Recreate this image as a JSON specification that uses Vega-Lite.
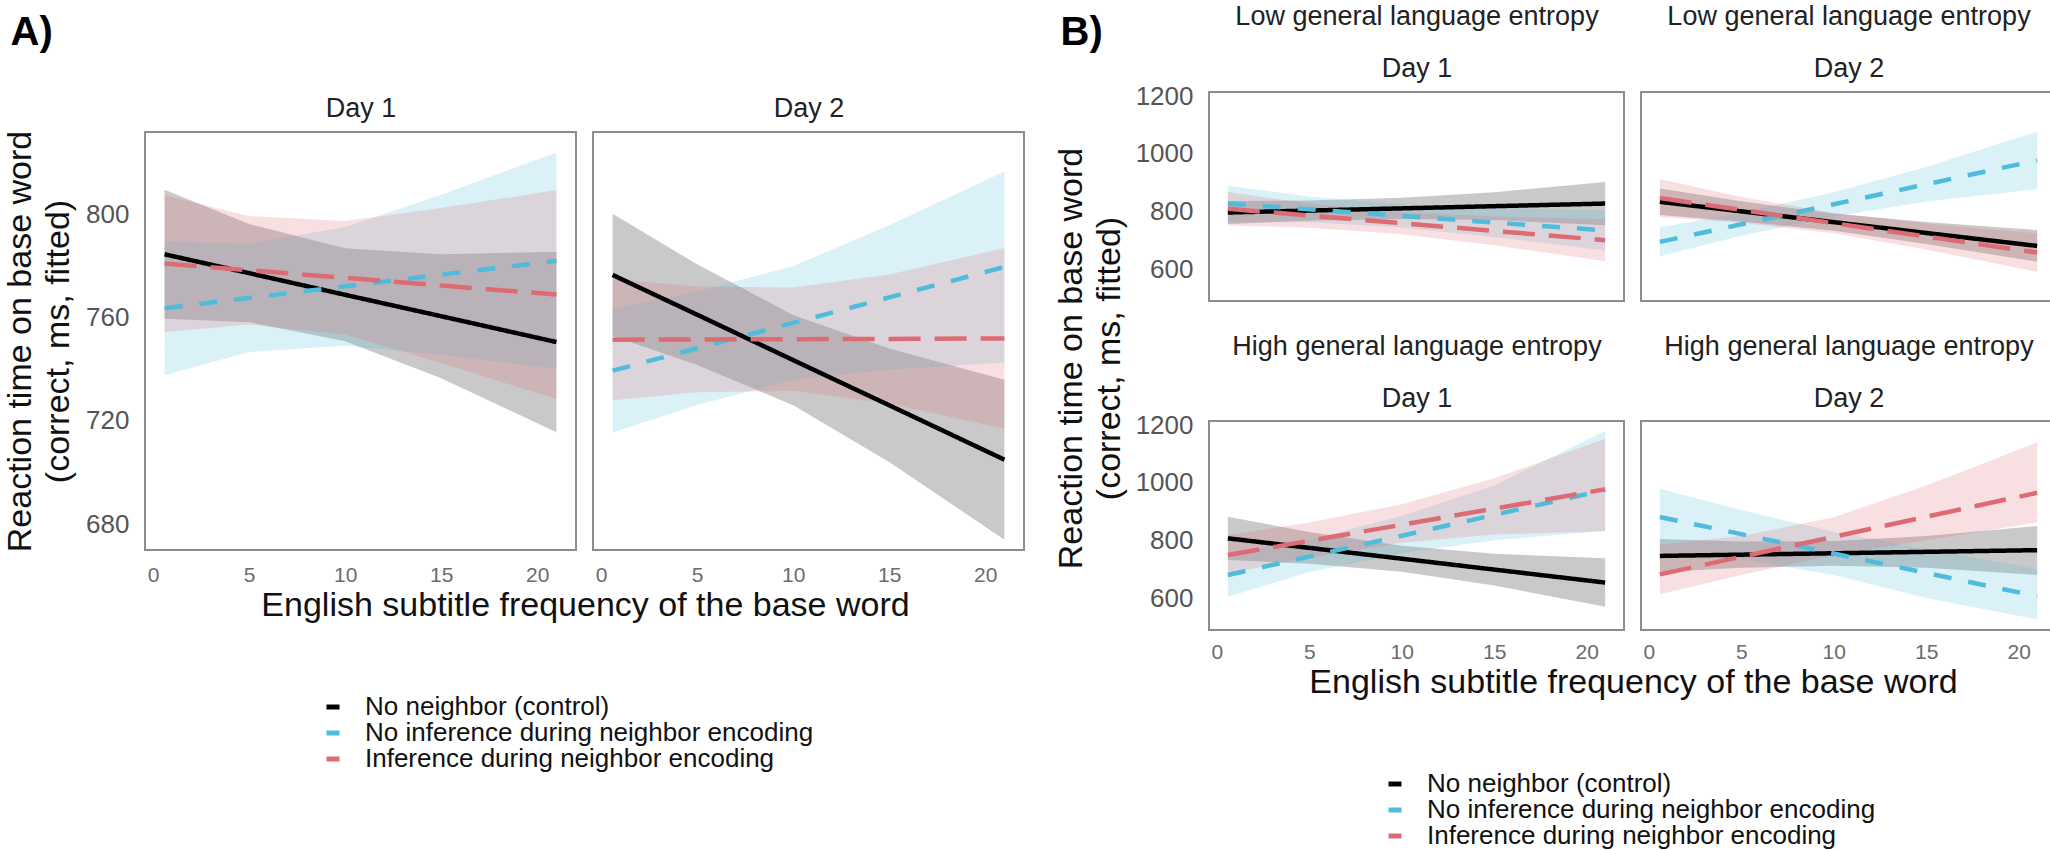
{
  "$schema": "https://vega.github.io/schema/vega-lite/v6.json",
  "background": "white",
  "padding": {"left": 2, "top": 1, "right": 0, "bottom": 0},
  "config": {
    "font": "Liberation Sans",
    "view": {"stroke": "#8c8c8c", "strokeWidth": 2},
    "axis": {"grid": false, "domain": false, "ticks": false, "tickSize": 0, "labelFont": "Liberation Sans", "titleFont": "Liberation Sans", "titleFontWeight": "normal", "titleColor": "#111111", "titleFontSize": 34}
  },
  "datasets": {
    "rt": [
      {"p": "A1", "c": "No neighbor (control)", "x": 0.6, "y": 784.6, "lo": 759.6, "hi": 809.6},
      {"p": "A1", "c": "No neighbor (control)", "x": 5, "y": 777.3, "lo": 758.3, "hi": 796.3},
      {"p": "A1", "c": "No neighbor (control)", "x": 10, "y": 768.9, "lo": 750.9, "hi": 786.9},
      {"p": "A1", "c": "No neighbor (control)", "x": 15, "y": 760.6, "lo": 736.6, "hi": 784.6},
      {"p": "A1", "c": "No neighbor (control)", "x": 21, "y": 750.6, "lo": 715.6, "hi": 785.6},
      {"p": "A1", "c": "No inference during neighbor encoding", "x": 0.6, "y": 763.7, "lo": 737.7, "hi": 789.7},
      {"p": "A1", "c": "No inference during neighbor encoding", "x": 5, "y": 767.7, "lo": 746.7, "hi": 788.7},
      {"p": "A1", "c": "No inference during neighbor encoding", "x": 10, "y": 772.2, "lo": 749.2, "hi": 795.2},
      {"p": "A1", "c": "No inference during neighbor encoding", "x": 15, "y": 776.7, "lo": 745.7, "hi": 807.7},
      {"p": "A1", "c": "No inference during neighbor encoding", "x": 21, "y": 782.1, "lo": 740.1, "hi": 824.1},
      {"p": "A1", "c": "Inference during neighbor encoding", "x": 0.6, "y": 781, "lo": 754.5, "hi": 807.5},
      {"p": "A1", "c": "Inference during neighbor encoding", "x": 5, "y": 778.4, "lo": 757.4, "hi": 799.4},
      {"p": "A1", "c": "Inference during neighbor encoding", "x": 10, "y": 775.5, "lo": 753.5, "hi": 797.5},
      {"p": "A1", "c": "Inference during neighbor encoding", "x": 15, "y": 772.5, "lo": 742.5, "hi": 802.5},
      {"p": "A1", "c": "Inference during neighbor encoding", "x": 21, "y": 769, "lo": 728.5, "hi": 809.5},

      {"p": "A2", "c": "No neighbor (control)", "x": 0.6, "y": 776.6, "lo": 752.9, "hi": 800.3},
      {"p": "A2", "c": "No neighbor (control)", "x": 5, "y": 761.2, "lo": 741.7, "hi": 780.7},
      {"p": "A2", "c": "No neighbor (control)", "x": 10, "y": 743.6, "lo": 726.1, "hi": 761.1},
      {"p": "A2", "c": "No neighbor (control)", "x": 15, "y": 726.1, "lo": 704.1, "hi": 748.1},
      {"p": "A2", "c": "No neighbor (control)", "x": 21, "y": 705, "lo": 674, "hi": 736},
      {"p": "A2", "c": "No inference during neighbor encoding", "x": 0.6, "y": 739.5, "lo": 715.5, "hi": 763.5},
      {"p": "A2", "c": "No inference during neighbor encoding", "x": 5, "y": 748.2, "lo": 726.2, "hi": 770.2},
      {"p": "A2", "c": "No inference during neighbor encoding", "x": 10, "y": 758, "lo": 736, "hi": 780},
      {"p": "A2", "c": "No inference during neighbor encoding", "x": 15, "y": 767.9, "lo": 739.9, "hi": 795.9},
      {"p": "A2", "c": "No inference during neighbor encoding", "x": 21, "y": 779.7, "lo": 742.7, "hi": 816.7},
      {"p": "A2", "c": "Inference during neighbor encoding", "x": 0.6, "y": 751.5, "lo": 728, "hi": 775},
      {"p": "A2", "c": "Inference during neighbor encoding", "x": 5, "y": 751.6, "lo": 731.1, "hi": 772.1},
      {"p": "A2", "c": "Inference during neighbor encoding", "x": 10, "y": 751.7, "lo": 731.7, "hi": 771.7},
      {"p": "A2", "c": "Inference during neighbor encoding", "x": 15, "y": 751.8, "lo": 726.8, "hi": 776.8},
      {"p": "A2", "c": "Inference during neighbor encoding", "x": 21, "y": 752, "lo": 717, "hi": 787},

      {"p": "TL", "c": "No neighbor (control)", "x": 0.6, "y": 796, "lo": 756, "hi": 836},
      {"p": "TL", "c": "No neighbor (control)", "x": 5, "y": 802.7, "lo": 767.7, "hi": 837.7},
      {"p": "TL", "c": "No neighbor (control)", "x": 10, "y": 810.3, "lo": 773.3, "hi": 847.3},
      {"p": "TL", "c": "No neighbor (control)", "x": 15, "y": 817.9, "lo": 769.9, "hi": 865.9},
      {"p": "TL", "c": "No neighbor (control)", "x": 21, "y": 827, "lo": 752, "hi": 902},
      {"p": "TL", "c": "No inference during neighbor encoding", "x": 0.6, "y": 827, "lo": 765, "hi": 889},
      {"p": "TL", "c": "No inference during neighbor encoding", "x": 5, "y": 806.9, "lo": 761.9, "hi": 851.9},
      {"p": "TL", "c": "No inference during neighbor encoding", "x": 10, "y": 784.1, "lo": 744.1, "hi": 824.1},
      {"p": "TL", "c": "No inference during neighbor encoding", "x": 15, "y": 761.4, "lo": 711.4, "hi": 811.4},
      {"p": "TL", "c": "No inference during neighbor encoding", "x": 21, "y": 734, "lo": 664, "hi": 804},
      {"p": "TL", "c": "Inference during neighbor encoding", "x": 0.6, "y": 809, "lo": 751, "hi": 867},
      {"p": "TL", "c": "Inference during neighbor encoding", "x": 5, "y": 785.5, "lo": 743.5, "hi": 827.5},
      {"p": "TL", "c": "Inference during neighbor encoding", "x": 10, "y": 758.8, "lo": 720.8, "hi": 796.8},
      {"p": "TL", "c": "Inference during neighbor encoding", "x": 15, "y": 732.1, "lo": 682.1, "hi": 782.1},
      {"p": "TL", "c": "Inference during neighbor encoding", "x": 21, "y": 700, "lo": 627, "hi": 773},

      {"p": "TR", "c": "No neighbor (control)", "x": 0.6, "y": 833, "lo": 787, "hi": 879},
      {"p": "TR", "c": "No neighbor (control)", "x": 5, "y": 800, "lo": 765, "hi": 835},
      {"p": "TR", "c": "No neighbor (control)", "x": 10, "y": 762.5, "lo": 732.5, "hi": 792.5},
      {"p": "TR", "c": "No neighbor (control)", "x": 15, "y": 725, "lo": 687, "hi": 763},
      {"p": "TR", "c": "No neighbor (control)", "x": 21, "y": 680, "lo": 625, "hi": 735},
      {"p": "TR", "c": "No inference during neighbor encoding", "x": 0.6, "y": 694, "lo": 644, "hi": 744},
      {"p": "TR", "c": "No inference during neighbor encoding", "x": 5, "y": 755, "lo": 715, "hi": 795},
      {"p": "TR", "c": "No inference during neighbor encoding", "x": 10, "y": 824.4, "lo": 782.4, "hi": 866.4},
      {"p": "TR", "c": "No inference during neighbor encoding", "x": 15, "y": 893.8, "lo": 833.8, "hi": 953.8},
      {"p": "TR", "c": "No inference during neighbor encoding", "x": 21, "y": 977, "lo": 877, "hi": 1077},
      {"p": "TR", "c": "Inference during neighbor encoding", "x": 0.6, "y": 846, "lo": 780, "hi": 912},
      {"p": "TR", "c": "Inference during neighbor encoding", "x": 5, "y": 805.2, "lo": 760.2, "hi": 850.2},
      {"p": "TR", "c": "Inference during neighbor encoding", "x": 10, "y": 758.9, "lo": 723.9, "hi": 793.9},
      {"p": "TR", "c": "Inference during neighbor encoding", "x": 15, "y": 712.6, "lo": 667.6, "hi": 757.6},
      {"p": "TR", "c": "Inference during neighbor encoding", "x": 21, "y": 657, "lo": 590, "hi": 724},

      {"p": "BL", "c": "No neighbor (control)", "x": 0.6, "y": 807, "lo": 732, "hi": 882},
      {"p": "BL", "c": "No neighbor (control)", "x": 5, "y": 773.9, "lo": 718.9, "hi": 828.9},
      {"p": "BL", "c": "No neighbor (control)", "x": 10, "y": 736.3, "lo": 691.3, "hi": 781.3},
      {"p": "BL", "c": "No neighbor (control)", "x": 15, "y": 698.6, "lo": 643.6, "hi": 753.6},
      {"p": "BL", "c": "No neighbor (control)", "x": 21, "y": 653.5, "lo": 569.5, "hi": 737.5},
      {"p": "BL", "c": "No inference during neighbor encoding", "x": 0.6, "y": 680, "lo": 604, "hi": 756},
      {"p": "BL", "c": "No inference during neighbor encoding", "x": 5, "y": 743.6, "lo": 690, "hi": 800},
      {"p": "BL", "c": "No inference during neighbor encoding", "x": 10, "y": 815.9, "lo": 755, "hi": 885},
      {"p": "BL", "c": "No inference during neighbor encoding", "x": 15, "y": 888.2, "lo": 800, "hi": 990},
      {"p": "BL", "c": "No inference during neighbor encoding", "x": 21, "y": 975, "lo": 832, "hi": 1179},
      {"p": "BL", "c": "Inference during neighbor encoding", "x": 0.6, "y": 749, "lo": 685, "hi": 818},
      {"p": "BL", "c": "Inference during neighbor encoding", "x": 5, "y": 798.2, "lo": 740, "hi": 862},
      {"p": "BL", "c": "Inference during neighbor encoding", "x": 10, "y": 854.1, "lo": 792, "hi": 925},
      {"p": "BL", "c": "Inference during neighbor encoding", "x": 15, "y": 910, "lo": 820, "hi": 1015},
      {"p": "BL", "c": "Inference during neighbor encoding", "x": 21, "y": 977, "lo": 832, "hi": 1152},

      {"p": "BR", "c": "No neighbor (control)", "x": 0.6, "y": 746, "lo": 690, "hi": 805},
      {"p": "BR", "c": "No neighbor (control)", "x": 5, "y": 750.3, "lo": 705, "hi": 796},
      {"p": "BR", "c": "No neighbor (control)", "x": 10, "y": 755.2, "lo": 712, "hi": 798},
      {"p": "BR", "c": "No neighbor (control)", "x": 15, "y": 760.1, "lo": 705, "hi": 815},
      {"p": "BR", "c": "No neighbor (control)", "x": 21, "y": 766, "lo": 680, "hi": 850},
      {"p": "BR", "c": "No inference during neighbor encoding", "x": 0.6, "y": 881, "lo": 763, "hi": 979},
      {"p": "BR", "c": "No inference during neighbor encoding", "x": 5, "y": 821.7, "lo": 735, "hi": 905},
      {"p": "BR", "c": "No inference during neighbor encoding", "x": 10, "y": 754.3, "lo": 680, "hi": 830},
      {"p": "BR", "c": "No inference during neighbor encoding", "x": 15, "y": 686.9, "lo": 600, "hi": 770},
      {"p": "BR", "c": "No inference during neighbor encoding", "x": 21, "y": 606, "lo": 526, "hi": 700},
      {"p": "BR", "c": "Inference during neighbor encoding", "x": 0.6, "y": 682, "lo": 613, "hi": 786},
      {"p": "BR", "c": "Inference during neighbor encoding", "x": 5, "y": 743, "lo": 680, "hi": 815},
      {"p": "BR", "c": "Inference during neighbor encoding", "x": 10, "y": 812.4, "lo": 750, "hi": 880},
      {"p": "BR", "c": "Inference during neighbor encoding", "x": 15, "y": 881.8, "lo": 800, "hi": 990},
      {"p": "BR", "c": "Inference during neighbor encoding", "x": 21, "y": 965, "lo": 862, "hi": 1139}
    ]
  },
  "spacing": 27,
  "hconcat": [
    {
      "bounds": "flush",
      "spacing": 0,
      "vconcat": [
        {
          "width": 879, "height": 40,
          "view": {"stroke": null},
          "data": {"values": []},
          "mark": "point",
          "encoding": {}
        },
        {
          "bounds": "flush",
          "spacing": 17,
          "resolve": {"scale": {"x": "independent", "y": "independent"}},
          "hconcat": [
            {
              "width": 431, "height": 418,
              "data": {"name": "rt"},
              "transform": [{"filter": "datum.p === 'A1'"}],
              "resolve": {"axis": {"x": "independent", "y": "independent"}},
              "layer": [
                {"mark": {"type": "area", "fillOpacity": 0.21},
                 "encoding": {
                   "x": {"field": "x", "type": "quantitative", "scale": {"domain": [-0.42, 22.02], "nice": false, "zero": false}, "axis": {"orient": "bottom", "values": [0, 5, 10, 15, 20], "labelFontSize": 21, "labelColor": "#6b6b6b", "labelPadding": 14, "title": null}},
                   "y": {"field": "lo", "type": "quantitative", "scale": {"domain": [670, 832], "nice": false, "zero": false}, "axis": {"orient": "left", "values": [680, 720, 760, 800], "labelFontSize": 26, "labelColor": "#555555", "labelPadding": 16, "title": ["Reaction time on base word", "(correct, ms, fitted)"], "titleLineHeight": 38, "titlePadding": 10}},
                   "y2": {"field": "hi"},
                   "fill": {"field": "c", "type": "nominal", "scale": {"domain": ["No inference during neighbor encoding", "No neighbor (control)", "Inference during neighbor encoding"], "range": ["#4FBCDB", "#000000", "#DC6B74"]}, "legend": null}
                 }},
                {"mark": {"type": "line", "strokeWidth": 4.5},
                 "encoding": {
                   "x": {"field": "x", "type": "quantitative", "scale": {"domain": [-0.42, 22.02], "nice": false, "zero": false}, "axis": {"orient": "top", "labels": false, "title": "Day 1", "titleX": 215.5, "titleY": -36.7, "titleAlign": "center", "titleBaseline": "top", "titleFontSize": 27, "titleColor": "#222222"}},
                   "y": {"field": "y", "type": "quantitative", "scale": {"domain": [670, 832], "nice": false, "zero": false}, "axis": {"orient": "right", "labels": false, "title": "A)", "titleX": -566, "titleY": -120, "titleAngle": 0, "titleAlign": "left", "titleBaseline": "top", "titleFontSize": 40, "titleFontWeight": "bold", "titleColor": "#000000"}},
                   "stroke": {"field": "c", "type": "nominal", "scale": {"domain": ["No neighbor (control)", "No inference during neighbor encoding", "Inference during neighbor encoding"], "range": ["#000000", "#4FBCDB", "#DC6B74"]}, "legend": {"title": null, "orient": "none", "legendX": 175, "legendY": 602, "direction": "vertical", "symbolType": "stroke", "symbolSize": 169, "symbolStrokeWidth": 5, "labelFontSize": 26, "labelFont": "Liberation Sans", "labelColor": "#111111", "labelOffset": 19, "rowPadding": -1, "padding": 0, "labelLimit": 900}},
                   "strokeDash": {"field": "c", "type": "nominal", "scale": {"domain": ["No inference during neighbor encoding", "Inference during neighbor encoding", "No neighbor (control)"], "range": [[18, 17], [32, 14], [1, 0]]}, "legend": null}
                 }}
              ]
            },
            {
              "width": 431, "height": 418,
              "data": {"name": "rt"},
              "transform": [{"filter": "datum.p === 'A2'"}],
              "resolve": {"axis": {"x": "independent", "y": "independent"}},
              "layer": [
                {"mark": {"type": "area", "fillOpacity": 0.21},
                 "encoding": {
                   "x": {"field": "x", "type": "quantitative", "scale": {"domain": [-0.42, 22.02], "nice": false, "zero": false}, "axis": {"orient": "bottom", "values": [0, 5, 10, 15, 20], "labelFontSize": 21, "labelColor": "#6b6b6b", "labelPadding": 14, "title": "English subtitle frequency of the base word", "titleX": -8, "titleY": 38}},
                   "y": {"field": "lo", "type": "quantitative", "scale": {"domain": [670, 832], "nice": false, "zero": false}, "axis": null},
                   "y2": {"field": "hi"},
                   "fill": {"field": "c", "type": "nominal", "scale": {"domain": ["No inference during neighbor encoding", "No neighbor (control)", "Inference during neighbor encoding"], "range": ["#4FBCDB", "#000000", "#DC6B74"]}, "legend": null}
                 }},
                {"mark": {"type": "line", "strokeWidth": 4.5},
                 "encoding": {
                   "x": {"field": "x", "type": "quantitative", "scale": {"domain": [-0.42, 22.02], "nice": false, "zero": false}, "axis": {"orient": "top", "labels": false, "title": "Day 2", "titleX": 215.5, "titleY": -36.7, "titleAlign": "center", "titleBaseline": "top", "titleFontSize": 27, "titleColor": "#222222"}},
                   "y": {"field": "y", "type": "quantitative", "scale": {"domain": [670, 832], "nice": false, "zero": false}, "axis": null},
                   "stroke": {"field": "c", "type": "nominal", "scale": {"domain": ["No neighbor (control)", "No inference during neighbor encoding", "Inference during neighbor encoding"], "range": ["#000000", "#4FBCDB", "#DC6B74"]}, "legend": {"title": null, "orient": "none", "legendX": 175, "legendY": 602, "direction": "vertical", "symbolType": "stroke", "symbolSize": 169, "symbolStrokeWidth": 5, "labelFontSize": 26, "labelFont": "Liberation Sans", "labelColor": "#111111", "labelOffset": 19, "rowPadding": -1, "padding": 0, "labelLimit": 900}},
                   "strokeDash": {"field": "c", "type": "nominal", "scale": {"domain": ["No inference during neighbor encoding", "Inference during neighbor encoding", "No neighbor (control)"], "range": [[18, 17], [32, 14], [1, 0]]}, "legend": null}
                 }}
              ]
            }
          ]
        }
      ]
    },
    {
      "bounds": "flush",
      "columns": 2,
      "spacing": {"row": 120, "column": 17},
      "resolve": {"scale": {"x": "independent", "y": "independent"}},
      "concat": [
        {
          "width": 415, "height": 209,
          "data": {"name": "rt"},
          "transform": [{"filter": "datum.p === 'TL'"}],
          "resolve": {"axis": {"x": "independent", "y": "independent"}},
          "layer": [
            {"mark": {"type": "area", "fillOpacity": 0.21},
             "encoding": {
               "x": {"field": "x", "type": "quantitative", "scale": {"domain": [-0.42, 22.02], "nice": false, "zero": false}, "axis": null},
               "y": {"field": "lo", "type": "quantitative", "scale": {"domain": [489, 1214], "nice": false, "zero": false}, "axis": {"orient": "left", "values": [600, 800, 1000, 1200], "format": "d", "labelFontSize": 26, "labelColor": "#555555", "labelPadding": 16, "title": ["Reaction time on base word", "(correct, ms, fitted)"], "titleLineHeight": 38, "titleX": -121, "titleY": 266}},
               "y2": {"field": "hi"},
               "fill": {"field": "c", "type": "nominal", "scale": {"domain": ["No inference during neighbor encoding", "No neighbor (control)", "Inference during neighbor encoding"], "range": ["#4FBCDB", "#000000", "#DC6B74"]}, "legend": null}
             }},
            {"mark": {"type": "line", "strokeWidth": 4.5},
             "encoding": {
               "x": {"field": "x", "type": "quantitative", "scale": {"domain": [-0.42, 22.02], "nice": false, "zero": false}, "axis": {"orient": "top", "labels": false, "title": ["Low general language entropy", "Day 1"], "titleLineHeight": 52, "titleX": 207.5, "titleY": -88.7, "titleAlign": "center", "titleBaseline": "top", "titleFontSize": 27, "titleColor": "#222222"}},
               "y": {"field": "y", "type": "quantitative", "scale": {"domain": [489, 1214], "nice": false, "zero": false}, "axis": {"orient": "right", "labels": false, "title": "B)", "titleX": -564, "titleY": -80, "titleAngle": 0, "titleAlign": "left", "titleBaseline": "top", "titleFontSize": 40, "titleFontWeight": "bold", "titleColor": "#000000"}},
               "color": {"field": "c", "type": "nominal", "scale": {"domain": ["Inference during neighbor encoding", "No inference during neighbor encoding", "No neighbor (control)"], "range": ["#DC6B74", "#4FBCDB", "#000000"]}, "legend": {"title": null, "values": ["No neighbor (control)", "No inference during neighbor encoding", "Inference during neighbor encoding"], "orient": "none", "legendX": 1237, "legendY": 679, "direction": "vertical", "symbolType": "stroke", "symbolSize": 169, "symbolStrokeWidth": 5, "labelFontSize": 26, "labelFont": "Liberation Sans", "labelColor": "#111111", "labelOffset": 19, "rowPadding": -1, "padding": 0, "labelLimit": 900}},
               "strokeDash": {"field": "c", "type": "nominal", "scale": {"domain": ["No inference during neighbor encoding", "Inference during neighbor encoding", "No neighbor (control)"], "range": [[18, 17], [32, 14], [1, 0]]}, "legend": null}
             }}
          ]
        },
        {
          "width": 415, "height": 209,
          "data": {"name": "rt"},
          "transform": [{"filter": "datum.p === 'TR'"}],
          "resolve": {"axis": {"x": "independent", "y": "independent"}},
          "layer": [
            {"mark": {"type": "area", "fillOpacity": 0.21},
             "encoding": {
               "x": {"field": "x", "type": "quantitative", "scale": {"domain": [-0.42, 22.02], "nice": false, "zero": false}, "axis": null},
               "y": {"field": "lo", "type": "quantitative", "scale": {"domain": [489, 1214], "nice": false, "zero": false}, "axis": null},
               "y2": {"field": "hi"},
               "fill": {"field": "c", "type": "nominal", "scale": {"domain": ["No inference during neighbor encoding", "No neighbor (control)", "Inference during neighbor encoding"], "range": ["#4FBCDB", "#000000", "#DC6B74"]}, "legend": null}
             }},
            {"mark": {"type": "line", "strokeWidth": 4.5},
             "encoding": {
               "x": {"field": "x", "type": "quantitative", "scale": {"domain": [-0.42, 22.02], "nice": false, "zero": false}, "axis": {"orient": "top", "labels": false, "title": ["Low general language entropy", "Day 2"], "titleLineHeight": 52, "titleX": 207.5, "titleY": -88.7, "titleAlign": "center", "titleBaseline": "top", "titleFontSize": 27, "titleColor": "#222222"}},
               "y": {"field": "y", "type": "quantitative", "scale": {"domain": [489, 1214], "nice": false, "zero": false}, "axis": null},
               "color": {"field": "c", "type": "nominal", "scale": {"domain": ["Inference during neighbor encoding", "No inference during neighbor encoding", "No neighbor (control)"], "range": ["#DC6B74", "#4FBCDB", "#000000"]}, "legend": {"title": null, "values": ["No neighbor (control)", "No inference during neighbor encoding", "Inference during neighbor encoding"], "orient": "none", "legendX": 1237, "legendY": 679, "direction": "vertical", "symbolType": "stroke", "symbolSize": 169, "symbolStrokeWidth": 5, "labelFontSize": 26, "labelFont": "Liberation Sans", "labelColor": "#111111", "labelOffset": 19, "rowPadding": -1, "padding": 0, "labelLimit": 900}},
               "strokeDash": {"field": "c", "type": "nominal", "scale": {"domain": ["No inference during neighbor encoding", "Inference during neighbor encoding", "No neighbor (control)"], "range": [[18, 17], [32, 14], [1, 0]]}, "legend": null}
             }}
          ]
        },
        {
          "width": 415, "height": 209,
          "data": {"name": "rt"},
          "transform": [{"filter": "datum.p === 'BL'"}],
          "resolve": {"axis": {"x": "independent", "y": "independent"}},
          "layer": [
            {"mark": {"type": "area", "fillOpacity": 0.21},
             "encoding": {
               "x": {"field": "x", "type": "quantitative", "scale": {"domain": [-0.42, 22.02], "nice": false, "zero": false}, "axis": {"orient": "bottom", "values": [0, 5, 10, 15, 20], "labelFontSize": 21, "labelColor": "#6b6b6b", "labelPadding": 11, "title": null}},
               "y": {"field": "lo", "type": "quantitative", "scale": {"domain": [489, 1214], "nice": false, "zero": false}, "axis": {"orient": "left", "values": [600, 800, 1000, 1200], "format": "d", "labelFontSize": 26, "labelColor": "#555555", "labelPadding": 16, "title": null}},
               "y2": {"field": "hi"},
               "fill": {"field": "c", "type": "nominal", "scale": {"domain": ["No inference during neighbor encoding", "No neighbor (control)", "Inference during neighbor encoding"], "range": ["#4FBCDB", "#000000", "#DC6B74"]}, "legend": null}
             }},
            {"mark": {"type": "line", "strokeWidth": 4.5},
             "encoding": {
               "x": {"field": "x", "type": "quantitative", "scale": {"domain": [-0.42, 22.02], "nice": false, "zero": false}, "axis": {"orient": "top", "labels": false, "title": ["High general language entropy", "Day 1"], "titleLineHeight": 52, "titleX": 207.5, "titleY": -87.7, "titleAlign": "center", "titleBaseline": "top", "titleFontSize": 27, "titleColor": "#222222"}},
               "y": {"field": "y", "type": "quantitative", "scale": {"domain": [489, 1214], "nice": false, "zero": false}, "axis": null},
               "color": {"field": "c", "type": "nominal", "scale": {"domain": ["Inference during neighbor encoding", "No inference during neighbor encoding", "No neighbor (control)"], "range": ["#DC6B74", "#4FBCDB", "#000000"]}, "legend": {"title": null, "values": ["No neighbor (control)", "No inference during neighbor encoding", "Inference during neighbor encoding"], "orient": "none", "legendX": 1237, "legendY": 679, "direction": "vertical", "symbolType": "stroke", "symbolSize": 169, "symbolStrokeWidth": 5, "labelFontSize": 26, "labelFont": "Liberation Sans", "labelColor": "#111111", "labelOffset": 19, "rowPadding": -1, "padding": 0, "labelLimit": 900}},
               "strokeDash": {"field": "c", "type": "nominal", "scale": {"domain": ["No inference during neighbor encoding", "Inference during neighbor encoding", "No neighbor (control)"], "range": [[18, 17], [32, 14], [1, 0]]}, "legend": null}
             }}
          ]
        },
        {
          "width": 415, "height": 209,
          "data": {"name": "rt"},
          "transform": [{"filter": "datum.p === 'BR'"}],
          "resolve": {"axis": {"x": "independent", "y": "independent"}},
          "layer": [
            {"mark": {"type": "area", "fillOpacity": 0.21},
             "encoding": {
               "x": {"field": "x", "type": "quantitative", "scale": {"domain": [-0.42, 22.02], "nice": false, "zero": false}, "axis": {"orient": "bottom", "values": [0, 5, 10, 15, 20], "labelFontSize": 21, "labelColor": "#6b6b6b", "labelPadding": 11, "title": "English subtitle frequency of the base word", "titleX": -8, "titleY": 35}},
               "y": {"field": "lo", "type": "quantitative", "scale": {"domain": [489, 1214], "nice": false, "zero": false}, "axis": null},
               "y2": {"field": "hi"},
               "fill": {"field": "c", "type": "nominal", "scale": {"domain": ["No inference during neighbor encoding", "No neighbor (control)", "Inference during neighbor encoding"], "range": ["#4FBCDB", "#000000", "#DC6B74"]}, "legend": null}
             }},
            {"mark": {"type": "line", "strokeWidth": 4.5},
             "encoding": {
               "x": {"field": "x", "type": "quantitative", "scale": {"domain": [-0.42, 22.02], "nice": false, "zero": false}, "axis": {"orient": "top", "labels": false, "title": ["High general language entropy", "Day 2"], "titleLineHeight": 52, "titleX": 207.5, "titleY": -87.7, "titleAlign": "center", "titleBaseline": "top", "titleFontSize": 27, "titleColor": "#222222"}},
               "y": {"field": "y", "type": "quantitative", "scale": {"domain": [489, 1214], "nice": false, "zero": false}, "axis": null},
               "color": {"field": "c", "type": "nominal", "scale": {"domain": ["Inference during neighbor encoding", "No inference during neighbor encoding", "No neighbor (control)"], "range": ["#DC6B74", "#4FBCDB", "#000000"]}, "legend": {"title": null, "values": ["No neighbor (control)", "No inference during neighbor encoding", "Inference during neighbor encoding"], "orient": "none", "legendX": 1237, "legendY": 679, "direction": "vertical", "symbolType": "stroke", "symbolSize": 169, "symbolStrokeWidth": 5, "labelFontSize": 26, "labelFont": "Liberation Sans", "labelColor": "#111111", "labelOffset": 19, "rowPadding": -1, "padding": 0, "labelLimit": 900}},
               "strokeDash": {"field": "c", "type": "nominal", "scale": {"domain": ["No inference during neighbor encoding", "Inference during neighbor encoding", "No neighbor (control)"], "range": [[18, 17], [32, 14], [1, 0]]}, "legend": null}
             }}
          ]
        }
      ]
    }
  ]
}
